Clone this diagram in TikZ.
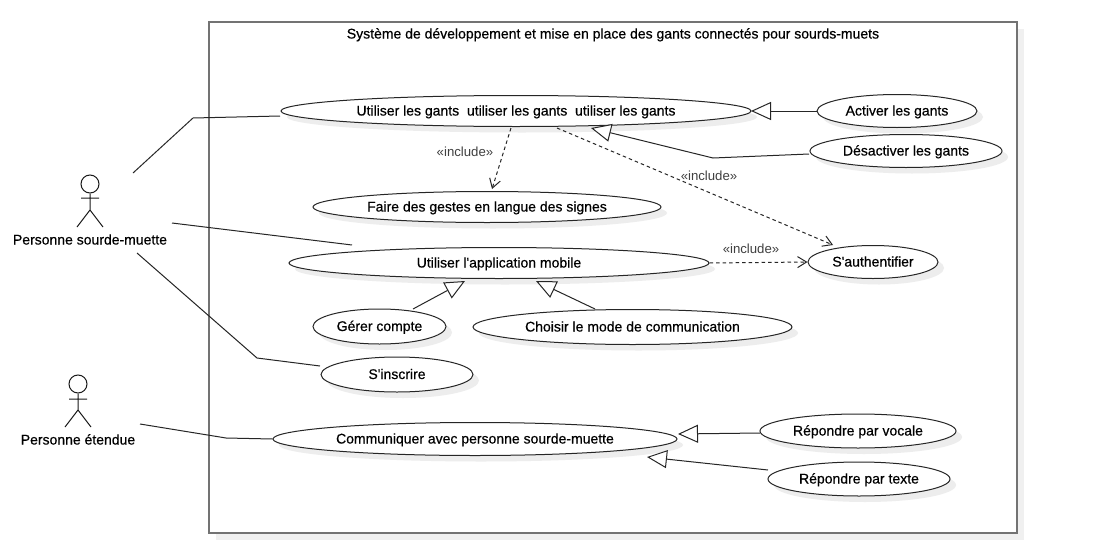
\documentclass[tikz,border=0pt]{standalone}
\usepackage{fontspec}
\setmainfont[Ligatures=TeXOff, FakeBold=0.5]{Liberation Sans}
\newfontfamily\lightfont[Ligatures=TeXOff]{Liberation Sans}
\usetikzlibrary{shapes,arrows.meta,positioning,calc,shadows}

\tikzset{
  labeltext/.style={font=\fontsize{14}{15}\selectfont, text=black, text height=10.5pt, text depth=1.5pt},
  usecase/.style={labeltext, draw=black!85, line width=1pt, ellipse, fill=white, inner sep=0pt,
    drop shadow={shadow xshift=6pt, shadow yshift=-6pt, fill=black!7, opacity=1}},
  actorhead/.style={draw=black!90, line width=1pt, circle, minimum size=18pt, inner sep=0pt},
  actorbody/.style={draw=black!90, line width=1pt},
  assoc/.style={draw=black!85, line width=1pt},
  generalize/.style={draw=black!85, line width=1pt, -{Triangle[open, length=20pt, width=18pt, fill=white]}},
  includes/.style={draw=black!85, line width=1pt, dash pattern=on 3.5pt off 3pt, -{Straight Barb[length=9pt, width=11pt]}},
  includelabel/.style={font=\lightfont\fontsize{13.2}{15}\selectfont, text=black!75}
}

\begin{document}
\begin{tikzpicture}[x=1pt, y=-1pt]
\useasboundingbox (0,0) rectangle (1109,541);
% system boundary
\node[draw=black!55, line width=2pt, fill=white, minimum width=808pt, minimum height=511pt, inner sep=0pt,
  drop shadow={shadow xshift=7pt, shadow yshift=-7pt, fill=black!6, opacity=1}] (systeme) at (613,277.5) {};
\node[labeltext] (titre) at (613,34) {Système de développement et mise en place des gants connectés pour sourds-muets};

% use cases
\node[usecase, minimum width=470pt, minimum height=31pt] (gants) at (516,111) {Utiliser les gants\ \ utiliser les gants\ \ utiliser les gants};
\node[usecase, minimum width=160pt, minimum height=33pt] (activer) at (897,111) {Activer les gants};
\node[usecase, minimum width=192pt, minimum height=33pt] (desactiver) at (906,151) {Désactiver les gants};
\node[usecase, minimum width=348pt, minimum height=31pt] (gestes) at (487,207) {Faire des gestes en langue des signes};
\node[usecase, minimum width=420pt, minimum height=31pt] (appli) at (499,263) {Utiliser l'application mobile};
\node[usecase, minimum width=130pt, minimum height=33pt] (auth) at (873,262) {S'authentifier};
\node[usecase, minimum width=133pt, minimum height=35pt] (compte) at (379.5,326.5) {Gérer compte};
\node[usecase, minimum width=319pt, minimum height=35pt] (mode) at (632.5,327) {Choisir le mode de communication};
\node[usecase, minimum width=152pt, minimum height=35pt] (inscrire) at (397,374.5) {S'inscrire};
\node[usecase, minimum width=404pt, minimum height=33pt] (communiquer) at (475,439) {Communiquer avec personne sourde-muette};
\node[usecase, minimum width=196pt, minimum height=34pt] (vocale) at (858,431) {Répondre par vocale};
\node[usecase, minimum width=182pt, minimum height=34pt] (texte) at (859,479) {Répondre par texte};

% actors
\node[actorhead] (tete1) at (90,184) {};
\draw[actorbody] (tete1.south) -- (90,210) -- (77,227) (90,210) -- (103,227) (81,198) -- (99,198);
\node[labeltext] (sourd) at (90,240) {Personne sourde-muette};
\node[actorhead] (tete2) at (78,384) {};
\draw[actorbody] (tete2.south) -- (78,410) -- (65,427) (78,410) -- (91,427) (69,399) -- (87,399);
\node[labeltext] (etendue) at (78,440) {Personne étendue};

% associations
\coordinate (a1) at (133,173);
\coordinate (a1b) at (280,116);
\coordinate (a2) at (172,223);
\coordinate (a2b) at (352,245);
\coordinate (a3) at (137,253);
\coordinate (a3b) at (320,366);
\coordinate (a4) at (140,424);
\draw[assoc] (a1) -- (193,118) -- (a1b);
\draw[assoc] (a2) -- (a2b);
\draw[assoc] (a3) -- (257,358) -- (a3b);
\draw[assoc] (a4) -- (226,438) -- (communiquer.west);

% generalizations
\coordinate (g1) at (751,111);
\coordinate (g2) at (591,128);
\coordinate (g3) at (465,281);
\coordinate (g4) at (536,281);
\coordinate (g5) at (678,434);
\coordinate (g6) at (647,457);
\coordinate (c0) at (809,154);
\coordinate (c1) at (413,309);
\coordinate (c2) at (595,309);
\coordinate (c3) at (768,470);
\coordinate (c4) at (760,433);
\draw[generalize] (activer.west) -- (g1);
\draw[generalize] (c0) -- (713,158) -- (g2);
\draw[generalize] (c1) -- (g3);
\draw[generalize] (c2) -- (g4);
\draw[generalize] (c4) -- (g5);
\draw[generalize] (c3) -- (g6);

% includes
\coordinate (i1) at (511,128);
\coordinate (i2) at (492,189);
\coordinate (i3) at (557,128);
\coordinate (i4) at (833,245);
\draw[includes] (i1) -- (i2);
\draw[includes] (i3) -- (i4);
\draw[includes] (appli.east) -- (auth.west);
\node[includelabel] (inc1) at (465,152) {«include»};
\node[includelabel] (inc2) at (709,176) {«include»};
\node[includelabel] (inc3) at (751,249) {«include»};
\end{tikzpicture}
\end{document}
